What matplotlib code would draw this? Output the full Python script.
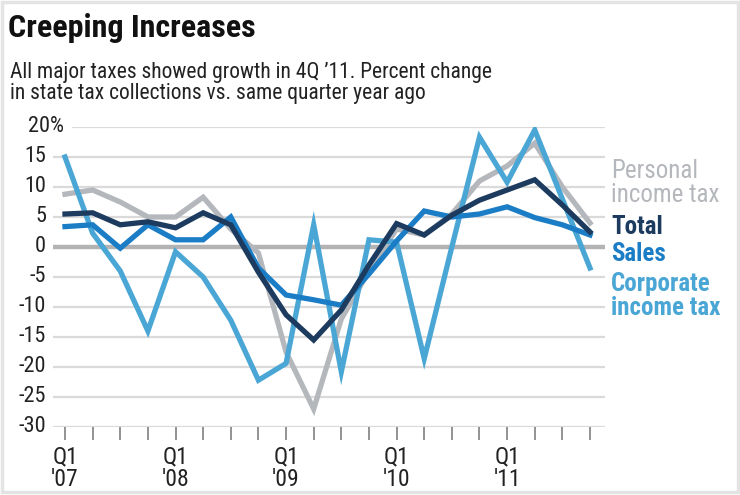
import matplotlib
matplotlib.use("Agg")
import matplotlib.pyplot as plt
import matplotlib.transforms as mtransforms
from matplotlib.patches import Rectangle

plt.rcParams['font.family'] = ['Roboto Condensed', 'Archivo Narrow', 'DejaVu Sans']

# ---- data ----
quarters = list(range(20))  # Q1 2007 .. Q4 2011
quarter_labels = ["Q1\n'07", "Q1\n'08", "Q1\n'09", "Q1\n'10", "Q1\n'11"]
personal = [8.8, 9.5, 7.5, 5.0, 5.0, 8.3, 3.0, -1.0, -17.5, -27.0,
            -12.0, -4.0, 3.0, 2.0, 5.5, 11.0, 13.5, 17.3, 10.0, 4.0]
total = [5.5, 5.7, 3.7, 4.2, 3.2, 5.7, 3.7, -4.2, -11.3, -15.5,
         -10.5, -3.0, 3.9, 2.0, 5.3, 7.8, 9.5, 11.2, 7.0, 2.5]
sales = [3.4, 3.7, -0.2, 3.7, 1.2, 1.2, 5.0, -3.5, -8.0, -8.8,
         -9.7, -4.5, 1.0, 6.0, 5.0, 5.5, 6.7, 4.9, 3.7, 2.0]
corporate = [15.0, 2.3, -4.0, -14.0, -0.8, -5.0, -12.2, -22.2, -19.4, 3.7,
             -20.8, 1.2, 0.8, -18.6, 0.0, 18.3, 10.8, 19.5, 8.0, -3.5]
yticks = [20, 15, 10, 5, 0, -5, -10, -15, -20, -25, -30]
ytick_labels = ["20%", "15", "10", "5", "0", "-5", "-10", "-15", "-20", "-25", "-30"]

series_names = ["Personal\nincome tax", "Total", "Sales", "Corporate\nincome tax"]
colors = {"personal": "#b4b7bb", "total": "#1c3b5e", "sales": "#1b7dc6", "corporate": "#4aa6d5"}

W, H = 740, 495
fig = plt.figure(figsize=(W / 100, H / 100), dpi=100)
fig.patch.set_facecolor("white")
fig.patches.append(Rectangle((0.003, 0.006), 0.994, 0.99, transform=fig.transFigure,
                             fill=False, edgecolor="#e4e4e4", linewidth=2.5))

def px(x, y):
    return x / W, 1 - y / H

# axes: left 53px, right 605px, top 127px (20), bottom 427px (-30)
ax = fig.add_axes([53 / W, 1 - 427 / H, (605 - 53) / W, (427 - 127) / H])
step = 27.63
ax.set_xlim(-12 / step, 19 + 15 / step)
ax.set_ylim(-30, 20)
for s in ax.spines.values():
    s.set_visible(False)

# gridlines
for v in yticks:
    if v == 0:
        ax.axhline(v, color="#b3b3b3", lw=3.2, zorder=1)
    elif v == 20:
        ax.axhline(v, xmin=20 / 552, color="#dadada", lw=1.6, zorder=1)
    else:
        ax.axhline(v, color="#dadada", lw=1.6, zorder=1)

lw = 3.8
ax.plot(quarters, personal, color=colors["personal"], lw=lw, zorder=2, solid_joinstyle="miter")
ax.plot(quarters, corporate, color=colors["corporate"], lw=lw, zorder=3, solid_joinstyle="miter")
ax.plot(quarters, sales, color=colors["sales"], lw=lw, zorder=4, solid_joinstyle="miter")
ax.plot(quarters, total, color=colors["total"], lw=lw, zorder=5, solid_joinstyle="miter")

# x ticks
ax.set_xticks(quarters, minor=True)
ax.set_xticks(quarters[::4])
ax.set_xticklabels(quarter_labels, fontsize=17, color="#222222", linespacing=1.0)
ax.tick_params(axis="x", which="both", length=9, width=1.3, color="#8a8a8a", pad=4, direction="out")

# y labels
ax.set_yticks([])
trans = mtransforms.blended_transform_factory(fig.transFigure, ax.transData)
for v, lab in zip(yticks, ytick_labels):
    xpos = 64 if lab.endswith("%") else 46
    ax.text(xpos / W, v, lab, transform=trans, ha="right", va="center",
            fontsize=16, color="#222222")

# series labels at right
fig.text(*px(611, 183), series_names[0], ha="left", va="center", fontsize=18,
         color="#b4b7bb", linespacing=0.95)
fig.text(*px(611, 227), series_names[1], ha="left", va="center", fontsize=18,
         color=colors["total"], fontweight="bold")
fig.text(*px(611, 254), series_names[2], ha="left", va="center", fontsize=18,
         color=colors["sales"], fontweight="bold")
fig.text(*px(611, 296), series_names[3], ha="left", va="center", fontsize=18,
         color=colors["corporate"], fontweight="bold", linespacing=0.95)

# title and subtitle
fig.text(*px(8, 28), "Creeping Increases", ha="left", va="center", fontsize=23,
         fontweight="bold", color="#111111")
fig.text(*px(10, 83), "All major taxes showed growth in 4Q \u201911. Percent change\n"
         "in state tax collections vs. same quarter year ago",
         ha="left", va="center", fontsize=15.5, color="#222222", linespacing=1.02)

fig.savefig("out.png", dpi=100, facecolor="white")
